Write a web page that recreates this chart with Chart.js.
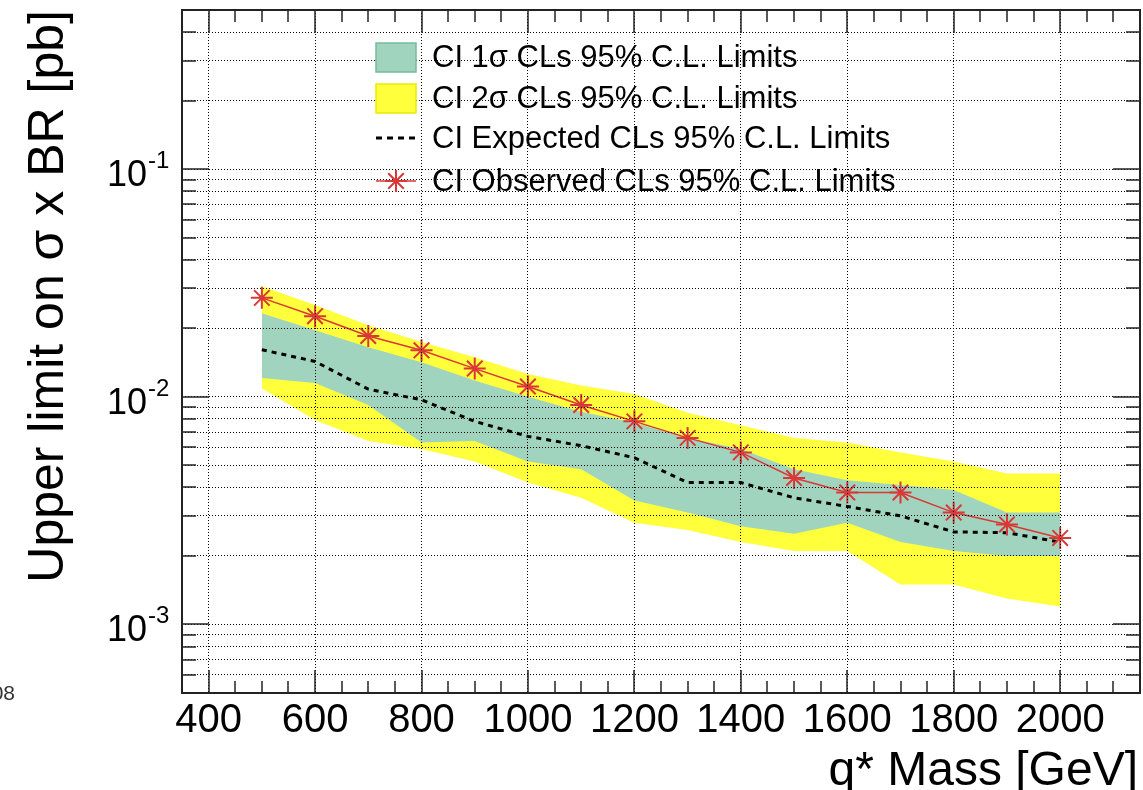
<!DOCTYPE html>
<html>
<head>
<meta charset="utf-8">
<script src="https://cdn.jsdelivr.net/npm/chart.js@4.4.0/dist/chart.umd.min.js"></script>
<style>
  html, body { margin: 0; padding: 0; background: #fff; overflow: hidden; }
  #wrap { width: 1143px; height: 790px; }
</style>
</head>
<body>
<div id="wrap"><canvas id="myChart" width="1143" height="790"></canvas></div>
<script>
const FONT = "'Liberation Sans', Arial, sans-serif";

// q* mass points [GeV]
const massPoints = [500, 600, 700, 800, 900, 1000, 1100, 1200, 1300, 1400, 1500, 1600, 1700, 1800, 1900, 2000];
// limits [pb]
const observed = [0.0272, 0.0226, 0.0185, 0.0160, 0.0133, 0.0111, 0.0092, 0.0078, 0.0066, 0.0057, 0.0044, 0.0038, 0.0038, 0.0031, 0.00275, 0.0024];
const expected = [0.0161, 0.0143, 0.0108, 0.0097, 0.0078, 0.0067, 0.0061, 0.0054, 0.0042, 0.0042, 0.0036, 0.0033, 0.0030, 0.00255, 0.00253, 0.0023];
const band1Up = [0.0233, 0.0196, 0.0165, 0.0142, 0.0118, 0.0100, 0.0086, 0.0077, 0.0066, 0.0059, 0.0048, 0.0043, 0.0041, 0.0039, 0.0031, 0.0031];
const band1Lo = [0.0121, 0.0115, 0.0092, 0.0063, 0.0064, 0.0052, 0.0048, 0.0035, 0.0031, 0.0027, 0.0025, 0.0028, 0.0023, 0.0021, 0.0020, 0.0020];
const band2Up = [0.0306, 0.0253, 0.0206, 0.0174, 0.0149, 0.0126, 0.0112, 0.0103, 0.0085, 0.0075, 0.0066, 0.0063, 0.0057, 0.0052, 0.0046, 0.0046];
const band2Lo = [0.0109, 0.0079, 0.0064, 0.0059, 0.0052, 0.0042, 0.0036, 0.0028, 0.0026, 0.0023, 0.0021, 0.0021, 0.0015, 0.0015, 0.0013, 0.0012];

const xTickValues = [400, 600, 800, 1000, 1200, 1400, 1600, 1800, 2000];
const yDecades = [0.1, 0.01, 0.001];
const yDecadeExp = ["-1", "-2", "-3"];
const legendLabels = [
  "CI 1\u03c3 CLs 95% C.L. Limits",
  "CI 2\u03c3 CLs 95% C.L. Limits",
  "CI Expected CLs 95% C.L. Limits",
  "CI Observed CLs 95% C.L. Limits",
];
const xTitle = "q* Mass [GeV]";
const yTitle = "Upper limit on \u03c3 x BR [pb]";

const GREEN = "rgb(160,212,190)";
const YELLOW = "rgb(255,255,60)";
const RED = "rgb(218,55,55)";

const toPoints = (values) => massPoints.map((m, i) => ({ x: m, y: values[i] }));

// every k x 10^n inside the axis range (ROOT draws grid on all of them)
let yTickValues = [];
for (let e = -4; e <= 0; e++) {
  for (let k = 1; k <= 9; k++) {
    const v = parseFloat((k * Math.pow(10, e)).toPrecision(3));
    if (v > 0.0005 && v < 0.5) yTickValues.push(v);
  }
}

const line = (ctx, x1, y1, x2, y2) => {
  ctx.beginPath();
  ctx.moveTo(x1, y1);
  ctx.lineTo(x2, y2);
  ctx.stroke();
};

const drawStar = (ctx, cx, cy, r) => {
  line(ctx, cx - r, cy, cx + r, cy);
  line(ctx, cx, cy - r, cx, cy + r);
  const d = r * Math.SQRT1_2;
  line(ctx, cx - d, cy - d, cx + d, cy + d);
  line(ctx, cx - d, cy + d, cx + d, cy - d);
};

// frame, ROOT style tick marks, tick labels, titles, legend
const rootDecor = {
  id: "rootDecor",
  afterDraw(chart) {
    const { ctx, chartArea: a, scales } = chart;
    const x = scales.x, y = scales.y;
    ctx.save();
    ctx.strokeStyle = "#222";
    ctx.lineWidth = 1.5;
    for (let m = 400; m <= 2100; m += 50) {
      const px = Math.round(x.getPixelForValue(m));
      const len = m % 200 === 0 ? 23 : 12;
      line(ctx, px, a.bottom, px, a.bottom - len);
      line(ctx, px, a.top, px, a.top + len);
    }
    yTickValues.forEach((v) => {
      const py = Math.round(y.getPixelForValue(v));
      const major = yDecades.includes(v);
      const len = major ? 27 : 14;
      line(ctx, a.left, py, a.left + len, py);
      line(ctx, a.right, py, a.right - len, py);
    });
    ctx.lineWidth = 2;
    ctx.strokeRect(a.left, a.top, a.right - a.left, a.bottom - a.top);

    ctx.fillStyle = "#000";
    ctx.textBaseline = "alphabetic";
    // x tick labels
    ctx.font = "40px " + FONT;
    ctx.textAlign = "center";
    xTickValues.forEach((v) => ctx.fillText(String(v), x.getPixelForValue(v), 732));
    // y tick labels 10^n
    yDecades.forEach((v, i) => {
      const py = y.getPixelForValue(v);
      ctx.font = "36px " + FONT;
      ctx.textAlign = "right";
      ctx.fillText("10", 147, py + 17);
      ctx.font = "24px " + FONT;
      ctx.textAlign = "left";
      ctx.fillText(yDecadeExp[i], 148, py - 1);
    });

    // axis titles
    ctx.font = "48px " + FONT;
    ctx.textAlign = "right";
    ctx.fillText(xTitle, 1138, 785);
    ctx.save();
    ctx.translate(63, 10);
    ctx.rotate(-Math.PI / 2);
    ctx.font = "50px " + FONT;
    ctx.textAlign = "right";
    ctx.fillText(yTitle, 0, 0);
    ctx.restore();

    // legend
    const rows = [57.5, 98, 138, 181];
    const bx = 376, bw = 40;
    ctx.fillStyle = GREEN;
    ctx.fillRect(bx, 43, bw, 29);
    ctx.strokeStyle = "rgb(120,185,155)";
    ctx.lineWidth = 1.5;
    ctx.strokeRect(bx, 43, bw, 29);
    ctx.fillStyle = YELLOW;
    ctx.fillRect(bx, 84, bw, 29);
    ctx.strokeStyle = "rgb(235,235,0)";
    ctx.strokeRect(bx, 84, bw, 29);
    ctx.strokeStyle = "#000";
    ctx.lineWidth = 3;
    ctx.setLineDash([6, 5]);
    line(ctx, bx, rows[2], bx + bw, rows[2]);
    ctx.setLineDash([]);
    ctx.strokeStyle = RED;
    ctx.lineWidth = 1.5;
    line(ctx, bx, rows[3], bx + bw, rows[3]);
    ctx.lineWidth = 2;
    drawStar(ctx, bx + bw / 2, rows[3], 11);
    ctx.fillStyle = "#000";
    ctx.font = "31px " + FONT;
    ctx.textAlign = "left";
    ctx.textBaseline = "middle";
    legendLabels.forEach((t, i) => ctx.fillText(t, 432, rows[i] + 1));

    // cut-off note at the left edge
    ctx.font = "21px " + FONT;
    ctx.fillStyle = "#333";
    ctx.textAlign = "right";
    ctx.textBaseline = "alphabetic";
    ctx.fillText("08", 15, 700);
    ctx.restore();
  },
};

const ctx = document.getElementById("myChart");
const myChart = new Chart(ctx, {
  type: "line",
  data: {
    datasets: [
      {
        label: legendLabels[3],
        data: toPoints(observed),
        borderColor: RED,
        borderWidth: 1.5,
        pointStyle: "star",
        pointRadius: 11,
        pointBorderColor: RED,
        pointBorderWidth: 2,
        fill: false,
        tension: 0,
      },
      {
        label: legendLabels[2],
        data: toPoints(expected),
        borderColor: "#000",
        borderWidth: 3,
        borderDash: [5, 5],
        pointRadius: 0,
        fill: false,
      },
      {
        label: legendLabels[0],
        data: toPoints(band1Up),
        borderColor: "rgba(0,0,0,0)",
        backgroundColor: GREEN,
        pointRadius: 0,
        fill: "+1",
      },
      {
        label: "1sigma low",
        data: toPoints(band1Lo),
        borderColor: "rgba(0,0,0,0)",
        pointRadius: 0,
        fill: false,
      },
      {
        label: legendLabels[1],
        data: toPoints(band2Up),
        borderColor: "rgba(0,0,0,0)",
        backgroundColor: YELLOW,
        pointRadius: 0,
        fill: "+1",
      },
      {
        label: "2sigma low",
        data: toPoints(band2Lo),
        borderColor: "rgba(0,0,0,0)",
        pointRadius: 0,
        fill: false,
      },
    ],
  },
  options: {
    responsive: false,
    animation: false,
    // the big star markers would otherwise add auto padding round the plot
    layout: { autoPadding: false, padding: { left: 0, right: 3, top: 10, bottom: 0 } },
    plugins: { legend: { display: false }, tooltip: { enabled: false } },
    scales: {
      x: {
        type: "linear",
        min: 350,
        max: 2150,
        afterBuildTicks: (s) => { s.ticks = xTickValues.map((v) => ({ value: v })); },
        afterFit: (s) => { s.height = 97; },
        grid: { color: "#000", lineWidth: 1, drawTicks: false, z: 1 },
        border: { display: false, dash: [1, 2] },
        ticks: { display: false },
      },
      y: {
        type: "logarithmic",
        min: 0.0005,
        max: 0.5,
        afterBuildTicks: (s) => { s.ticks = yTickValues.map((v) => ({ value: v })); },
        afterFit: (s) => { s.width = 182; },
        grid: { color: "#000", lineWidth: 1, drawTicks: false, z: 1 },
        border: { display: false, dash: [1, 2] },
        ticks: { display: false },
      },
    },
  },
  plugins: [rootDecor],
});
</script>
</body>
</html>
